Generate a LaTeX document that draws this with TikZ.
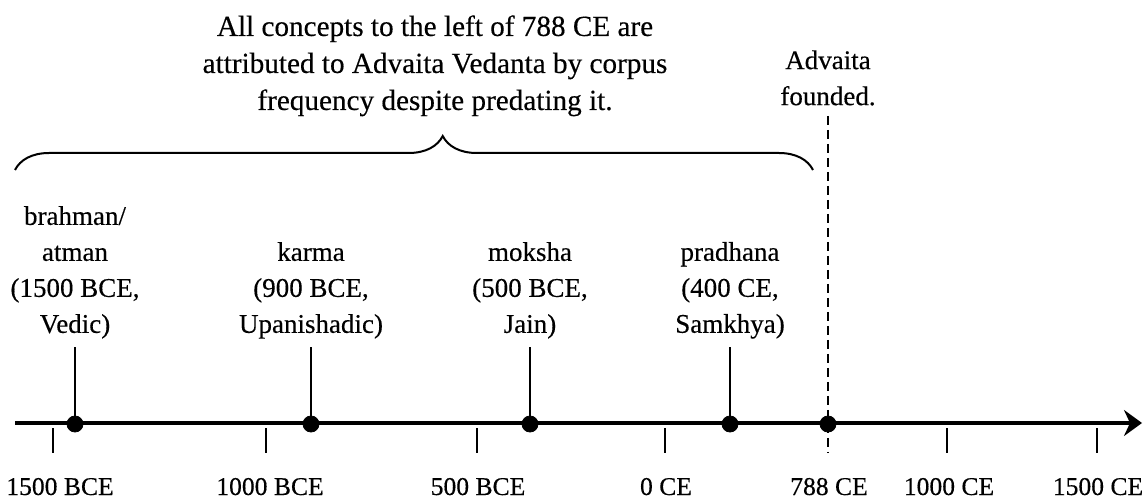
\documentclass[tikz,border=0pt]{standalone}
\usepackage{fontspec}
\setmainfont{Liberation Serif}[FakeBold=0.35]
\usetikzlibrary{arrows.meta,decorations.pathreplacing}
\begin{document}
\begin{tikzpicture}[x=0.5pt, y=-0.5pt,
  txt/.style={font=\fontsize{13.5}{18}\selectfont, align=center, inner sep=0pt},
  event/.style={draw, fill, circle, inner sep=0pt, minimum size=8pt},
  concept/.style={txt, anchor=south, inner ysep=4pt},
  tickmark/.style={line width=0.7pt}]
\useasboundingbox (0,0) rectangle (1146,502);

\coordinate (axis-l) at (15,423);
\coordinate (axis-r) at (1142,423);
\draw[line width=2pt, -{Stealth[length=9pt,width=13pt,inset=3pt]}] (axis-l) to (axis-r);

\foreach \x/\lx/\yr in {53/60/1500 BCE, 266/270/1000 BCE, 477/478/500 BCE, 665/666/0 CE, 947/949/1000 CE, 1097/1098/1500 CE}{
  \draw[tickmark] (\x,428) to (\x,453);
  \node[txt, anchor=base, font=\fontsize{12.8}{18}\selectfont] (yr-\x) at (\lx,495) {\yr};
}
\node[txt, anchor=base, font=\fontsize{12.8}{18}\selectfont] (yr-788) at (829,495) {788 CE};

\node (brahman) at (75,424) [event] {};
\node (karma) at (311,424) [event] {};
\node (moksha) at (530,424) [event] {};
\node (pradhana) at (730,424) [event] {};
\node (advaita) at (828,424) [event] {};

\node (brahman-l) at (75,347) [concept] {brahman/\\atman\\(1500 BCE,\\Vedic)};
\node (karma-l) at (311,347) [concept] {karma\\(900 BCE,\\Upanishadic)};
\node (moksha-l) at (530,347) [concept] {moksha\\(500 BCE,\\Jain)};
\node (pradhana-l) at (730,347) [concept] {pradhana\\(400 CE,\\Samkhya)};

\draw[line width=0.7pt] (brahman-l) to (brahman);
\draw[line width=0.7pt] (karma-l) to (karma);
\draw[line width=0.7pt] (moksha-l) to (moksha);
\draw[line width=0.7pt] (pradhana-l) to (pradhana);

\node (founded) at (828,40) [txt, anchor=north, inner ysep=5pt] {Advaita\\founded.};
\coordinate (founded-end) at (828,453);
\draw[line width=1.1pt, dash pattern=on 4.5pt off 2.5pt] (founded) to (founded-end);

\node (note) at (435,15) [txt, anchor=north, font=\fontsize{14.6}{18.5}\selectfont] {All concepts to the left of 788 CE are\\attributed to Advaita Vedanta by corpus\\frequency despite predating it.};

\coordinate (brace-l) at (15,170);
\coordinate (brace-r) at (813,170);
\draw[line width=1pt, decorate, decoration={brace, amplitude=17pt, aspect=0.536}] (brace-l) to (brace-r);
\end{tikzpicture}
\end{document}
